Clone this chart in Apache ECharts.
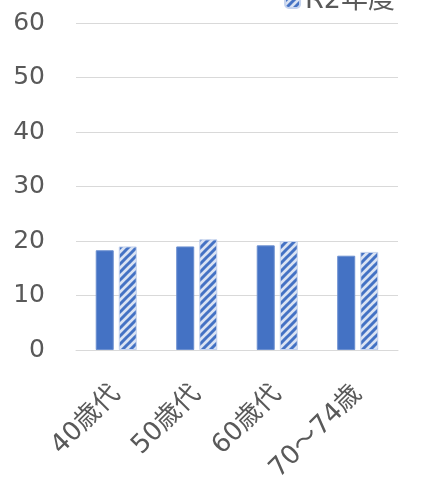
<!DOCTYPE html>
<html>
<head>
<meta charset="utf-8">
<script src="https://cdn.jsdelivr.net/npm/echarts@6/dist/echarts.min.js"></script>
<style>html,body{margin:0;padding:0;background:#fff;}#c{width:424px;height:486px;}</style>
</head>
<body>
<div id="c"></div>
<script>
const categories = ['40歳代', '50歳代', '60歳代', '70～74歳'];
const seriesNames = ['R1年度', 'R2年度'];
const valuesR1 = [18.3, 19.0, 19.2, 17.3];
const valuesR2 = [19.0, 20.3, 20.0, 18.0];
const yTicks = [0, 10, 20, 30, 40, 50, 60];

function makeHatch() {
  const s = 8;
  const cv = document.createElement('canvas');
  cv.width = s; cv.height = s;
  const g = cv.getContext('2d');
  g.fillStyle = '#dae3f3';
  g.fillRect(0, 0, s, s);
  g.strokeStyle = '#4472c4';
  g.lineWidth = 3;
  g.beginPath();
  for (let k = -1; k <= 1; k++) {
    g.moveTo(k * s - 1, s + 1);
    g.lineTo(k * s + s + 1, -1);
  }
  g.stroke();
  return cv;
}

const font = "'DejaVu Sans', 'Noto Sans CJK JP', sans-serif";
const chart = echarts.init(document.getElementById('c'));
chart.setOption({
  animation: false,
  textStyle: { fontFamily: font },
  legend: {
    data: [seriesNames[1]],
    right: 24,
    top: -18,
    itemWidth: 15,
    itemHeight: 15,
    itemGap: 6,
    textStyle: { fontSize: 27, color: '#595959', fontFamily: font }
  },
  grid: { left: 76, right: 26, top: 23, bottom: 136, containLabel: false },
  xAxis: {
    type: 'category',
    data: categories,
    axisLine: { lineStyle: { color: '#d9d9d9', width: 1 } },
    axisTick: { show: false },
    axisLabel: { rotate: 45, fontSize: 26, color: '#595959', margin: 40, fontFamily: font }
  },
  yAxis: {
    type: 'value',
    min: yTicks[0],
    max: yTicks[yTicks.length - 1],
    interval: 10,
    axisLine: { show: false },
    axisTick: { show: false },
    axisLabel: { fontSize: 25, color: '#595959', margin: 31, fontFamily: font },
    splitLine: { lineStyle: { color: '#d9d9d9', width: 1 } }
  },
  series: [
    {
      name: seriesNames[0], type: 'bar', data: valuesR1,
      barWidth: 18, barGap: '28%',
      itemStyle: { color: '#4472c4', borderColor: '#6b8fd0', borderWidth: 1 }
    },
    {
      name: seriesNames[1], type: 'bar', data: valuesR2,
      barWidth: 18,
      itemStyle: { color: { image: makeHatch(), repeat: 'repeat' }, borderColor: '#c5d3ee', borderWidth: 1 }
    }
  ]
});
</script>
</body>
</html>
